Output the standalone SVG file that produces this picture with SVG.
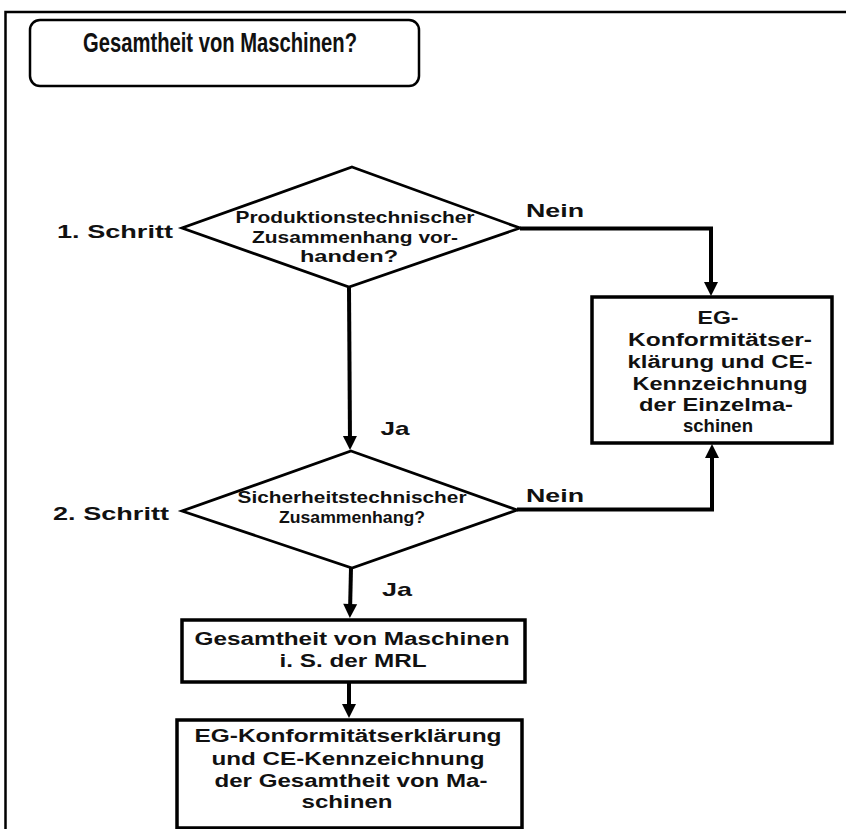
<svg xmlns="http://www.w3.org/2000/svg" width="846" height="829" viewBox="0 0 846 829">
<style>
text{font-family:"Liberation Sans",Arial,sans-serif;font-weight:bold;fill:#111;text-anchor:middle}
.t{font-size:28px}
.d{font-size:16.5px}
.b{font-size:17.5px}
.l{font-size:18.5px}
.shape{fill:#fff;stroke:#000}
.conn{fill:none;stroke:#000;stroke-width:4}
.frame{fill:none;stroke:#000;stroke-width:2.5}
</style>
<defs>
<marker id="ah" markerUnits="userSpaceOnUse" markerWidth="16" markerHeight="16" viewBox="0 0 16 16" refX="9" refY="8" orient="auto">
<path d="M1,1 L15,8 L1,15 z" fill="#000"/>
</marker>
</defs>
<rect width="846" height="829" fill="#fff"/>
<g id="frame">
<path class="frame" d="M5.5,829 V12 H846"/>
</g>
<g id="title">
<rect class="shape" x="30" y="20" width="389" height="66" rx="10" stroke-width="2.5"/>
<text class="t" x="220" y="52" textLength="274" lengthAdjust="spacingAndGlyphs">Gesamtheit von Maschinen?</text>
</g>
<g id="step1-label"><text class="l" x="115" y="238" textLength="116" lengthAdjust="spacingAndGlyphs">1. Schritt</text></g>
<g id="step2-label"><text class="l" x="111" y="520" textLength="116" lengthAdjust="spacingAndGlyphs">2. Schritt</text></g>
<g id="decision1">
<polygon class="shape" stroke-width="2.8" points="352,167 520,228 349,287 182,228"/>
<text class="d" x="355" y="223" textLength="239" lengthAdjust="spacingAndGlyphs">Produktionstechnischer</text>
<text class="d" x="355" y="243" textLength="206" lengthAdjust="spacingAndGlyphs">Zusammenhang vor-</text>
<text class="d" x="349" y="262" textLength="98" lengthAdjust="spacingAndGlyphs">handen?</text>
</g>
<g id="decision2">
<polygon class="shape" stroke-width="2.8" points="351,451 517,510 352,568 182,511"/>
<text class="d" x="352" y="503" textLength="229" lengthAdjust="spacingAndGlyphs">Sicherheitstechnischer</text>
<text class="d" x="352" y="523" textLength="146" lengthAdjust="spacingAndGlyphs">Zusammenhang?</text>
</g>
<g id="box-einzel">
<rect class="shape" x="592" y="297" width="240" height="146" stroke-width="3.5"/>
<text class="b" x="718" y="324" textLength="41" lengthAdjust="spacingAndGlyphs">EG-</text>
<text class="b" x="720" y="346" textLength="184" lengthAdjust="spacingAndGlyphs">Konformitätser-</text>
<text class="b" x="720" y="368" textLength="185" lengthAdjust="spacingAndGlyphs">klärung und CE-</text>
<text class="b" x="720" y="390" textLength="175" lengthAdjust="spacingAndGlyphs">Kennzeichnung</text>
<text class="b" x="716" y="411" textLength="154" lengthAdjust="spacingAndGlyphs">der Einzelma-</text>
<text class="b" x="718" y="432" textLength="70" lengthAdjust="spacingAndGlyphs">schinen</text>
</g>
<g id="box-gesamtheit">
<rect class="shape" x="182" y="620" width="343" height="62" stroke-width="3.5"/>
<text class="b" x="352" y="645" textLength="315" lengthAdjust="spacingAndGlyphs">Gesamtheit von Maschinen</text>
<text class="b" x="353" y="667" textLength="147" lengthAdjust="spacingAndGlyphs">i. S. der MRL</text>
</g>
<g id="box-konform">
<rect class="shape" x="177" y="720" width="345" height="108" stroke-width="3.5"/>
<text class="b" x="348" y="742" textLength="307" lengthAdjust="spacingAndGlyphs">EG-Konformitätserklärung</text>
<text class="b" x="348" y="765" textLength="273" lengthAdjust="spacingAndGlyphs">und CE-Kennzeichnung</text>
<text class="b" x="351" y="787" textLength="273" lengthAdjust="spacingAndGlyphs">der Gesamtheit von Ma-</text>
<text class="b" x="347" y="808" textLength="91" lengthAdjust="spacingAndGlyphs">schinen</text>
</g>
<g id="connectors">
<path class="conn" d="M520,228.5 H711 V290" marker-end="url(#ah)"/>
<path class="conn" d="M349,287 L350,444" marker-end="url(#ah)"/>
<path class="conn" d="M517,509.5 H712 V450" marker-end="url(#ah)"/>
<path class="conn" d="M351,568 L350,612" marker-end="url(#ah)"/>
<path class="conn" d="M349,682 V712" marker-end="url(#ah)"/>
<text class="l" x="555" y="217" textLength="58" lengthAdjust="spacingAndGlyphs">Nein</text>
<text class="l" x="555" y="502" textLength="58" lengthAdjust="spacingAndGlyphs">Nein</text>
<text class="l" x="395" y="435" textLength="29" lengthAdjust="spacingAndGlyphs">Ja</text>
<text class="l" x="397" y="596" textLength="30" lengthAdjust="spacingAndGlyphs">Ja</text>
</g>
</svg>
